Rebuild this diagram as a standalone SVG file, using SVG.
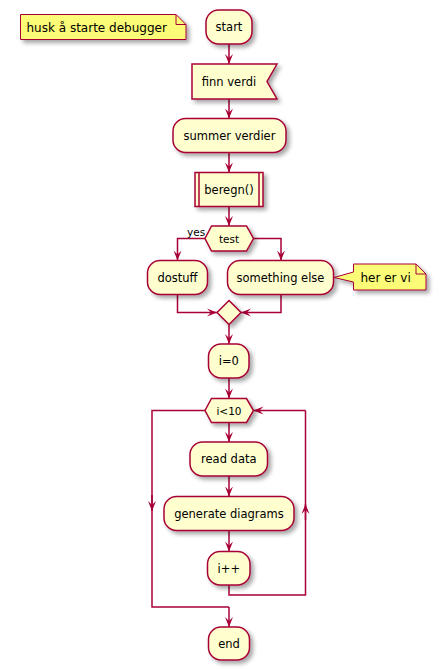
<svg xmlns="http://www.w3.org/2000/svg" width="446" height="671" viewBox="0 0 446 671">
<defs>
<filter id="sh" x="-20%" y="-20%" width="150%" height="160%">
<feGaussianBlur in="SourceAlpha" stdDeviation="2" result="b"/>
<feOffset in="b" dx="3" dy="3" result="o"/>
<feComponentTransfer in="o" result="o2"><feFuncA type="linear" slope="0.35"/></feComponentTransfer>
<feMerge><feMergeNode in="o2"/><feMergeNode in="SourceGraphic"/></feMerge>
</filter>
<marker id="ah" viewBox="0 0 10 10" refX="10" refY="5" markerWidth="10" markerHeight="10" markerUnits="userSpaceOnUse" orient="auto">
<path d="M0,1 L10,5 L0,9 L4,5 Z" fill="#A80036"/>
</marker>
</defs>
<style>
.n{fill:#FEFECE;stroke:#A80036;stroke-width:1.5;filter:url(#sh)}
.note{fill:#FBFB77;stroke:#A80036;stroke-width:1;filter:url(#sh)}
.fold{fill:none;stroke:#A80036;stroke-width:1}
.t{font-family:"DejaVu Sans",sans-serif;font-size:11.5px;fill:#000;text-anchor:middle}
.tn{font-family:"DejaVu Sans",sans-serif;font-size:12px;fill:#000}
.ts{font-family:"DejaVu Sans",sans-serif;font-size:10.5px;fill:#000}
.c{fill:none;stroke:#A80036;stroke-width:1.5}
.ca{fill:none;stroke:#A80036;stroke-width:1.5;marker-end:url(#ah)}
.il{stroke:#A80036;stroke-width:1.5}
</style>
<g id="connectors">
<line class="ca" x1="229" y1="44" x2="229" y2="64"/>
<line class="ca" x1="229" y1="99" x2="229" y2="118.5"/>
<line class="ca" x1="229" y1="152.5" x2="229" y2="172.5"/>
<line class="ca" x1="229" y1="206.5" x2="229" y2="226"/>
<polyline class="ca" points="205,238.5 177.5,238.5 177.5,260.5"/>
<polyline class="ca" points="253.5,238.5 281,238.5 281,260.5"/>
<polyline class="ca" points="177.5,294.5 177.5,312.5 217,312.5"/>
<polyline class="ca" points="281,294.5 281,312.5 241,312.5"/>
<line class="ca" x1="229" y1="324.5" x2="229" y2="344"/>
<line class="ca" x1="229" y1="378" x2="229" y2="398.5"/>
<line class="ca" x1="229" y1="422.5" x2="229" y2="442"/>
<line class="ca" x1="229" y1="476" x2="229" y2="496.5"/>
<line class="ca" x1="229" y1="530.5" x2="229" y2="551.5"/>
<polyline class="c" points="229,585 229,595 305.5,595 305.5,410.5"/>
<line class="ca" x1="305.5" y1="520" x2="305.5" y2="504"/>
<line class="ca" x1="305.5" y1="410.5" x2="253.5" y2="410.5"/>
<polyline class="c" points="205,410.5 152,410.5 152,607 229,607"/>
<line class="ca" x1="152" y1="495" x2="152" y2="511"/>
<line class="ca" x1="229" y1="607" x2="229" y2="627"/>
<text class="ts" x="187" y="236">yes</text>
</g>
<g id="note1">
<polygon class="note" points="20.5,14.5 176,14.5 186,24.5 186,39.5 20.5,39.5"/>
<polyline class="fold" points="176,14.5 176,24.5 186,24.5"/>
<text class="tn" x="26.5" y="31.5">husk å starte debugger</text>
</g>
<g id="start">
<rect class="n" x="206" y="10" width="46" height="34" rx="12.5"/>
<text class="t" x="229" y="31.3">start</text>
</g>
<g id="finn">
<polygon class="n" points="192,64 277,64 267,81.5 277,99 192,99"/>
<text class="t" x="229" y="85.5">finn verdi</text>
</g>
<g id="summer">
<rect class="n" x="173" y="118.5" width="113" height="34" rx="12.5"/>
<text class="t" x="229.5" y="139.8">summer verdier</text>
</g>
<g id="beregn">
<rect class="n" x="195" y="172.5" width="68" height="34"/>
<line class="il" x1="199" y1="172.5" x2="199" y2="206.5"/>
<line class="il" x1="259" y1="172.5" x2="259" y2="206.5"/>
<text class="t" x="229" y="193.8">beregn()</text>
</g>
<g id="test">
<polygon class="n" points="205,238.5 211.5,226 246.5,226 253.5,238.5 246.5,251 211.5,251"/>
<text class="ts" x="229" y="242.5" text-anchor="middle">test</text>
</g>
<g id="dostuff">
<rect class="n" x="147.5" y="260.5" width="60" height="34" rx="12.5"/>
<text class="t" x="177.5" y="281.8">dostuff</text>
</g>
<g id="else">
<rect class="n" x="227.5" y="260.5" width="106" height="34" rx="12.5"/>
<text class="t" x="280.5" y="281.8">something else</text>
</g>
<g id="note2">
<polygon class="note" points="353.5,264 416,264 426,274 426,290 353.5,290 353.5,282 334,277.5 353.5,272"/>
<polyline class="fold" points="416,264 416,274 426,274"/>
<text class="tn" x="360.5" y="282">her er vi</text>
</g>
<g id="merge">
<polygon class="n" points="229,300.5 241,312.5 229,324.5 217,312.5"/>
</g>
<g id="i0">
<rect class="n" x="208.5" y="344" width="40.5" height="34" rx="12.5"/>
<text class="t" x="228.8" y="365.3">i=0</text>
</g>
<g id="loop">
<polygon class="n" points="205,410.5 211.5,398.5 246.5,398.5 253.5,410.5 246.5,422.5 211.5,422.5"/>
<text class="ts" x="229" y="414.5" text-anchor="middle">i&lt;10</text>
</g>
<g id="read">
<rect class="n" x="190" y="442" width="77.5" height="34" rx="12.5"/>
<text class="t" x="228.8" y="463.3">read data</text>
</g>
<g id="gen">
<rect class="n" x="164" y="496.5" width="130" height="34" rx="12.5"/>
<text class="t" x="229" y="517.8">generate diagrams</text>
</g>
<g id="inc">
<rect class="n" x="207.5" y="551.5" width="42.5" height="33.5" rx="12.5"/>
<text class="t" x="228.8" y="572.5">i++</text>
</g>
<g id="end">
<rect class="n" x="208.5" y="627" width="41" height="33" rx="12.5"/>
<text class="t" x="229" y="648">end</text>
</g>
</svg>
